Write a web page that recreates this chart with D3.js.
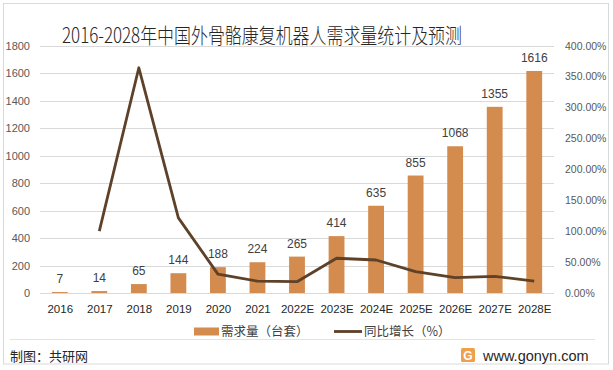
<!DOCTYPE html>
<html><head><meta charset="utf-8">
<script src="https://cdn.jsdelivr.net/npm/d3@7"></script>
<style>
body{margin:0;background:#fff;}
svg{display:block;font-family:"Liberation Sans","Noto Sans CJK SC",sans-serif;}
</style></head>
<body><svg id="c" width="613" height="370"></svg>
<script>
const categories = ["2016","2017","2018","2019","2020","2021","2022E","2023E","2024E","2025E","2026E","2027E","2028E"];
const demand = [7,14,65,144,188,224,265,414,635,855,1068,1355,1616];
const growth = [null,100,364.3,121.5,30.6,19.1,18.3,56.2,53.4,34.6,24.9,26.9,19.3];
const leftTicks = [0,200,400,600,800,1000,1200,1400,1600,1800];
const rightTicks = [0,50,100,150,200,250,300,350,400];
const title = "2016-2028年中国外骨骼康复机器人需求量统计及预测";
const seriesNames = ["需求量（台套）","同比增长（%）"];

const svg = d3.select("#c");
const barColor = "#D38B4E", lineColor = "#5E4129";
const plot = {l:40, r:554, t:45.7, b:293};

// border
svg.append("rect").attr("x",3.5).attr("y",3.5).attr("width",605).attr("height",360.5)
  .attr("fill","none").attr("stroke","#d9d9d9");

svg.append("text").attr("x",62).attr("y",43).attr("font-family","Noto Sans CJK SC").attr("font-weight",300)
  .attr("font-size",21).attr("fill","#262626").attr("textLength",400).attr("lengthAdjust","spacingAndGlyphs")
  .text(title);

const x = d3.scaleBand().domain(categories).range([plot.l,plot.r]).paddingInner(0.6).paddingOuter(0.3);
const xc = d3.scalePoint().domain(categories).range([plot.l,plot.r]).padding(0.5);
const y = d3.scaleLinear().domain([0,1800]).range([plot.b,plot.t]);
const y2 = d3.scaleLinear().domain([0,400]).range([plot.b,plot.t]);

// grid
svg.append("g").selectAll("line").data(leftTicks).join("line")
  .attr("x1",plot.l).attr("x2",plot.r).attr("y1",d=>Math.round(y(d))+0.5).attr("y2",d=>Math.round(y(d))+0.5)
  .attr("stroke","#d9d9d9").attr("stroke-width",1);

// left axis
const la = svg.append("g").attr("transform",`translate(${plot.l},0)`)
  .call(d3.axisLeft(y).tickValues(leftTicks).tickSize(0).tickPadding(10).tickFormat(d3.format("d")));
la.select(".domain").remove();
la.selectAll("text").attr("font-size",11).attr("fill","#595959").attr("font-family","Liberation Sans");

// right axis
const ra = svg.append("g").attr("transform",`translate(${plot.r},0)`)
  .call(d3.axisRight(y2).tickValues(rightTicks).tickSize(0).tickPadding(11).tickFormat(d=>d.toFixed(2)+"%"));
ra.select(".domain").remove();
ra.selectAll("text").attr("font-size",10.5).attr("fill","#595959").attr("font-family","Liberation Sans");

// x axis
const xa = svg.append("g").attr("transform",`translate(0,${plot.b})`)
  .call(d3.axisBottom(xc).tickSize(0).tickPadding(12));
xa.select(".domain").remove();
xa.selectAll("text").attr("font-size",11.5).attr("fill","#262626").attr("font-family","Liberation Sans");

// bars
svg.append("g").selectAll("rect").data(demand).join("rect")
  .attr("x",(d,i)=>x(categories[i])).attr("width",x.bandwidth())
  .attr("y",d=>y(d)).attr("height",d=>plot.b-y(d)).attr("fill",barColor);

// labels
svg.append("g").selectAll("text").data(demand).join("text")
  .attr("x",(d,i)=>xc(categories[i])).attr("y",d=>y(d)-9)
  .attr("text-anchor","middle").attr("font-size",12).attr("fill","#404040")
  .text(d=>d);

// line
const line = d3.line().defined(d=>d!=null).x((d,i)=>xc(categories[i])).y(d=>y2(d));
svg.append("path").datum(growth).attr("d",line).attr("fill","none")
  .attr("stroke",lineColor).attr("stroke-width",2.8).attr("stroke-linejoin","round");

// legend
const lg = svg.append("g");
lg.append("rect").attr("x",194).attr("y",327.5).attr("width",25).attr("height",8).attr("fill",barColor);
lg.append("text").attr("x",221).attr("y",336).attr("font-family","Noto Sans CJK SC").attr("font-size",12.5).attr("fill","#404040").text(seriesNames[0]);
lg.append("line").attr("x1",334).attr("x2",362).attr("y1",331.5).attr("y2",331.5).attr("stroke",lineColor).attr("stroke-width",2.8);
lg.append("text").attr("x",364).attr("y",336).attr("font-family","Noto Sans CJK SC").attr("font-size",12.5).attr("fill","#404040").text(seriesNames[1]);

// footer
svg.append("line").attr("x1",10).attr("x2",595).attr("y1",339.5).attr("y2",339.5).attr("stroke","#e3e3e3");
svg.append("text").attr("x",10).attr("y",361).attr("font-family","Noto Sans CJK SC").attr("font-size",13).attr("fill","#262626").text("制图：共研网");
const logo = svg.append("g").attr("transform","translate(461,348)");
logo.append("rect").attr("width",14).attr("height",14).attr("rx",1.5).attr("fill","#F0A04B");
logo.append("text").attr("x",7).attr("y",11.5).attr("text-anchor","middle").attr("font-size",12).attr("font-weight","bold").attr("fill","#fff").text("G");
svg.append("text").attr("x",483).attr("y",361).attr("font-family","Liberation Sans").attr("font-size",14.5).attr("fill","#262626").text("www.gonyn.com");
</script></body></html>
